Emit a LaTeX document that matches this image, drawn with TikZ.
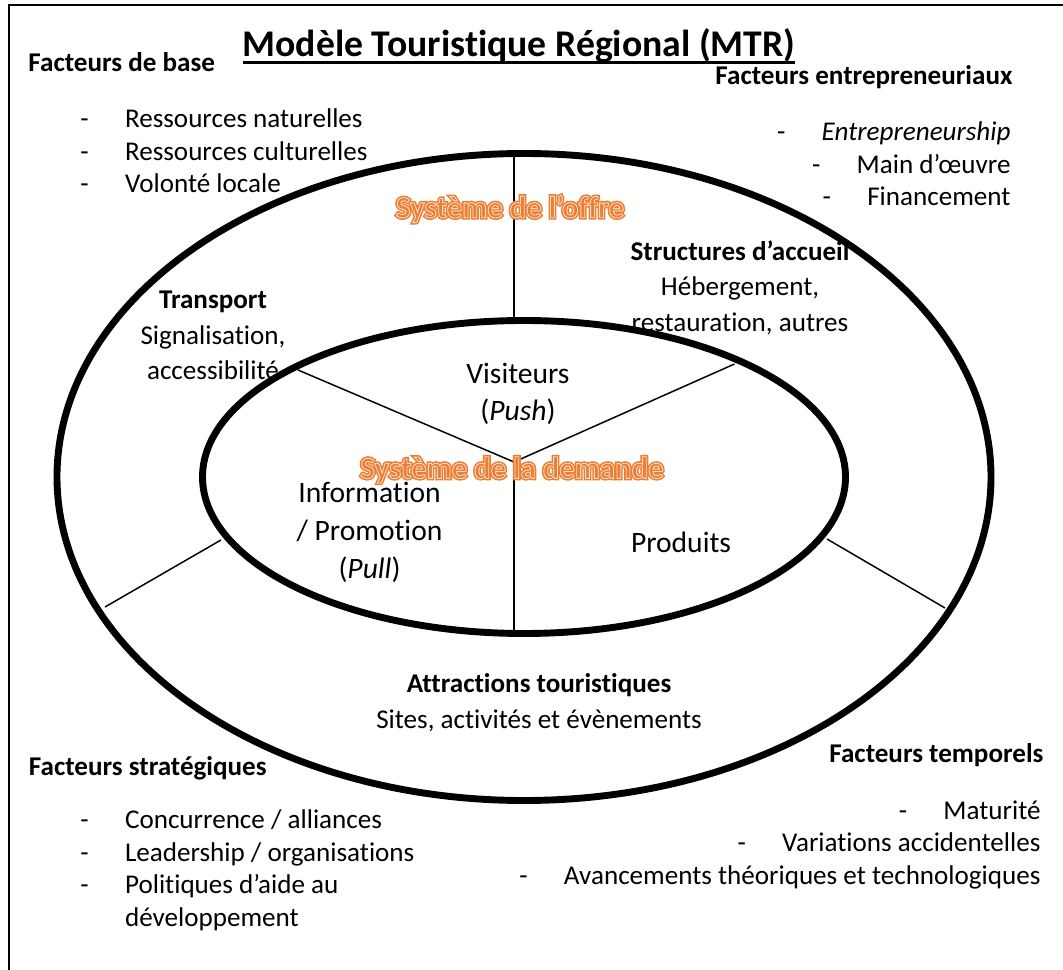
\documentclass[tikz,border=0pt]{standalone}
\usepackage{fontspec}
\setmainfont{Carlito}[Ligatures={NoCommon}]
\usepackage{tikz}

\definecolor{offre orange}{HTML}{ED7D31}
\newcommand{\sysword}[1]{\rlap{\special{pdf:literal direct 2 Tr 1.6 w}#1\special{pdf:literal direct 0 Tr}}%
  \special{pdf:literal direct 2 Tr 0.35 w 0.99 0.88 0.80 RG}#1\special{pdf:literal direct 0 Tr}}
\newcommand{\dash}{\makebox[18.1pt][l]{-}}
\newcommand{\thickul}[1]{\setbox0\hbox{#1}\rlap{\raisebox{-2.8pt}{\rule{\wd0}{1.1pt}}}\box0}

\begin{document}
\begin{tikzpicture}[x=0.406pt,y=-0.406pt,inner sep=0pt,
  ring/.style={line width=2.8pt},
  spoke/.style={line width=0.6pt},
  main node/.style={font=\fontsize{11}{13.2}\selectfont},
  head node/.style={font=\fontsize{11}{13.2}\selectfont\bfseries},
  zone node/.style={font=\fontsize{11}{14.4}\selectfont,align=center},
  inner node/.style={font=\fontsize{12}{15.3}\selectfont,align=center},
  sys node/.style={font=\fontsize{12.5}{15}\selectfont\bfseries,text=offre orange}]

  \useasboundingbox (0,0) rectangle (1063,970);
  \draw[line width=0.8pt] (9,5) rectangle (1080,990);

  % the two systems
  \coordinate (ctr) at (524,477);
  \draw[ring] (ctr) ellipse [x radius=467, y radius=323.5];
  \draw[ring] (ctr) ellipse [x radius=321.5, y radius=156.5];

  \coordinate (top out) at (514,153);
  \coordinate (top in) at (514,321);
  \coordinate (fork) at (514,462);
  \coordinate (fork left) at (298,370);
  \coordinate (fork right) at (734.5,364);
  \coordinate (fork down) at (514,634);
  \coordinate (left in) at (221,540);
  \coordinate (left out) at (105,607);
  \coordinate (right in) at (827,539);
  \coordinate (right out) at (945,608);

  \draw[spoke] (top out) -- (top in);
  \draw[spoke] (fork left) -- (fork) -- (fork right);
  \draw[spoke] (fork) -- (fork down);
  \draw[spoke] (left in) -- (left out);
  \draw[spoke] (right in) -- (right out);

  % title
  \node[font=\fontsize{15.3}{18}\selectfont\bfseries,anchor=base] (title) at (519,57) {\thickul{Modèle Touristique Régional (MTR)}};

  % outer factors
  \node[head node,anchor=west] (base) at (28,62) {Facteurs de base};
  \node[main node,anchor=west,align=left] (base list) at (80,151)
    {\dash Ressources naturelles\\ \dash Ressources culturelles\\ \dash Volonté locale};
  \node[head node,anchor=east] (entre) at (1013,77) {Facteurs entrepreneuriaux};
  \node[main node,anchor=east,align=right] (entre list) at (1011,164)
    {\dash\textit{Entrepreneurship}\\ \dash Main d’œuvre\\ \dash Financement};
  \node[head node,anchor=west] (strat) at (28.5,768) {Facteurs stratégiques};
  \node[main node,anchor=west,align=left] (strat list) at (80,870.5)
    {\dash Concurrence / alliances\\ \dash Leadership / organisations\\ \dash Politiques d’aide au\\ \hspace{18.1pt}développement};
  \node[head node,anchor=east] (temp) at (1044,755) {Facteurs temporels};
  \node[main node,anchor=east,align=right] (temp list) at (1041,845)
    {\dash Maturité\\ \dash Variations accidentelles\\ \dash Avancements théoriques et technologiques};

  % supply system
  \node[sys node] (offre) at (510,209) {\sysword{Système de l’offre}};
  \node[zone node] (accueil) at (740,287.5) {\textbf{Structures d’accueil}\\Hébergement,\\restauration, autres};
  \node[zone node] (transport) at (213,335.5) {\textbf{Transport}\\Signalisation,\\accessibilité};
  \node[zone node] (attractions) at (539,702.5) {\textbf{Attractions touristiques}\\Sites, activités et évènements};

  % demand system
  \node[sys node] (demande) at (512,470) {\sysword{Système de la demande}};
  \node[inner node] (visiteurs) at (518,394) {Visiteurs\\(\textit{Push})};
  \node[inner node] (info) at (369.5,532.5) {Information\\/ Promotion\\(\textit{Pull})};
  \node[inner node] (produits) at (681,542) {Produits};

\end{tikzpicture}
\end{document}
